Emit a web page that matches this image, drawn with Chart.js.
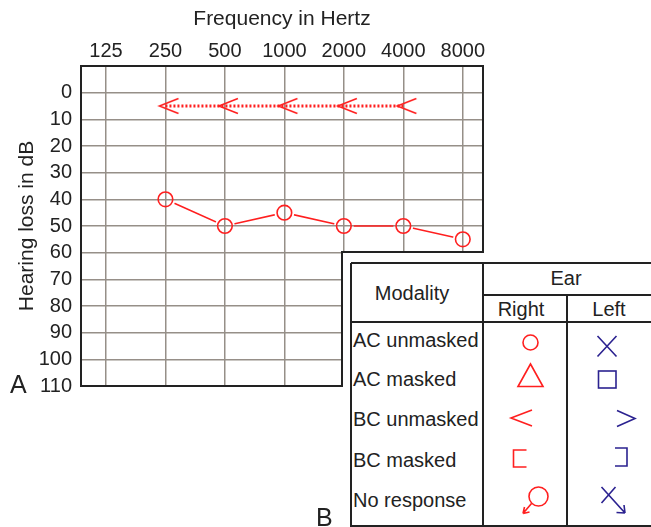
<!DOCTYPE html>
<html>
<head>
<meta charset="utf-8">
<script src="https://cdn.jsdelivr.net/npm/chart.js@4/dist/chart.umd.min.js"></script>
<style>
  html, body { margin: 0; padding: 0; background: #fff; }
  body { width: 651px; height: 527px; position: relative; overflow: hidden;
         font-family: "Liberation Sans", Arial, Helvetica, sans-serif; color: #222; }
  #chart { position: absolute; left: 0; top: 0; }
  #cover { position: absolute; left: 343px; top: 253px; right: 0; bottom: 0; background: #fff; }
  #key { position: absolute; left: 0; top: 0; }
  .t { position: absolute; font-size: 20px; line-height: 24px; white-space: nowrap; }
  .c { transform: translateX(-50%); }
  .panel { position: absolute; font-size: 25px; line-height: 30px; }
</style>
</head>
<body>
<canvas id="chart" width="651" height="527"></canvas>

<!-- panel B: symbol key pasted over the lower right of the audiogram -->
<div id="cover"></div>
<svg id="key" width="651" height="527" viewBox="0 0 651 527" fill="none" stroke-linecap="butt">
  <g stroke="#222" stroke-width="2">
    <path d="M351 263 H655 M351 263 V526 H655 M483 263 V526 M567 295 V526 M483 295 H655 M351 322 H655"/>
  </g>
  <g stroke="#ff1f1f" stroke-width="1.6">
    <circle cx="530.5" cy="342.5" r="7.5"/>
    <path d="M530.5 364 L518 386.5 H543 Z"/>
    <path d="M532 410 L511 418 L532 426"/>
    <path d="M526.5 450 H513.5 V467 H526.5"/>
    <circle cx="538.5" cy="496.5" r="9.5"/>
    <path d="M531.5 503.5 L523 513.5 M523 513.5 L529.5 512 M523 513.5 L524.5 507"/>
  </g>
  <g stroke="#2b2290" stroke-width="1.6">
    <path d="M597.5 336 L616.5 356.5 M616.5 336 L597.5 356.5"/>
    <rect x="598.5" y="371" width="17.5" height="17"/>
    <path d="M617 410.5 L635 418.5 L617 426.5"/>
    <path d="M615 448 H627 V466 H615"/>
    <path d="M601.5 487 L625 513 M615.5 487 L601.5 503 M625 513 L616.5 512.5 M625 513 L624 505"/>
  </g>
</svg>
<div class="t c" style="left:412px;top:281px">Modality</div>
<div class="t c" style="left:566px;top:266px">Ear</div>
<div class="t c" style="left:521px;top:297px">Right</div>
<div class="t c" style="left:609px;top:297px">Left</div>
<div class="t" style="left:353px;top:328px">AC unmasked</div>
<div class="t" style="left:353px;top:367px">AC masked</div>
<div class="t" style="left:353px;top:407px">BC unmasked</div>
<div class="t" style="left:353px;top:448px">BC masked</div>
<div class="t" style="left:353px;top:488px">No response</div>

<div class="panel" style="left:10px;top:369px">A</div>
<div class="panel" style="left:316px;top:502px">B</div>

<script>
// --- données de l'audiogramme (oreille droite) ---
const frequencies = [125, 250, 500, 1000, 2000, 4000, 8000];
const dbTicks = [0, 10, 20, 30, 40, 50, 60, 70, 80, 90, 100, 110];
const acRightDb = [null, 40, 50, 45, 50, 50, 55];   // conduction aérienne, O
const bcRightDb = [null, 5, 5, 5, 5, 5, null];      // conduction osseuse, <

const RED = '#ff1f1f';
const GRID = 'rgb(150,143,136)';
const INSET_LEFT = 342;  // coin de l'encart B
const INSET_TOP = 252;
const GAP_RADIUS = 10;   // le trait s'arrête avant les cercles

function seriesPoints(values) {
    return frequencies.map((f, i) => ({ x: i, y: values[i] }));
}

// symbole < (pointe légèrement à gauche du point)
function bcMark() {
    const c = document.createElement('canvas');
    c.width = 30; c.height = 20;
    const g = c.getContext('2d');
    g.strokeStyle = RED; g.lineWidth = 1.6;
    g.beginPath(); g.moveTo(28, 2.5); g.lineTo(9, 10); g.lineTo(28, 17.5); g.stroke();
    return c;
}

// coupe le trait O-O autour de chaque point (la grille reste visible dans les cercles)
const gapPlugin = {
    id: 'gap',
    beforeDatasetDraw(chart, args) {
        if (args.index !== 0) return;
        const ctx = chart.ctx;
        ctx.save();
        ctx.beginPath();
        ctx.rect(0, 0, chart.width, chart.height);
        args.meta.data.forEach(p => {
            if (p.skip) return;
            ctx.moveTo(p.x + GAP_RADIUS, p.y);
            ctx.arc(p.x, p.y, GAP_RADIUS, 0, Math.PI * 2, true);
        });
        ctx.clip('evenodd');
    },
    afterDatasetDraw(chart, args) {
        if (args.index === 0) chart.ctx.restore();
    }
};

// cadre en L (l'encart B coupe le coin bas droit)
const framePlugin = {
    id: 'frame',
    afterDraw(chart) {
        const { ctx, chartArea: a } = chart;
        ctx.save();
        ctx.strokeStyle = '#222';
        ctx.lineWidth = 2;
        ctx.beginPath();
        ctx.moveTo(a.left, a.top);
        ctx.lineTo(a.right, a.top);
        ctx.lineTo(a.right, INSET_TOP);
        ctx.lineTo(INSET_LEFT, INSET_TOP);
        ctx.lineTo(INSET_LEFT, a.bottom);
        ctx.lineTo(a.left, a.bottom);
        ctx.closePath();
        ctx.stroke();
        ctx.restore();
    }
};

Chart.defaults.font.family = '"Liberation Sans", Arial, Helvetica, sans-serif';
Chart.defaults.color = '#222';

new Chart(document.getElementById('chart'), {
    type: 'line',
    data: {
        datasets: [
            {
                label: 'AC unmasked right (trait)',
                data: seriesPoints(acRightDb),
                borderColor: RED,
                borderWidth: 1.6,
                pointRadius: 0,
                tension: 0
            },
            {
                label: 'AC unmasked right',
                data: seriesPoints(acRightDb),
                showLine: false,
                pointStyle: 'circle',
                pointRadius: 7.3,
                pointBorderWidth: 1.6,
                pointBorderColor: RED,
                pointBackgroundColor: 'rgba(0,0,0,0)'
            },
            {
                label: 'BC unmasked right',
                data: seriesPoints(bcRightDb),
                borderColor: RED,
                borderWidth: 3,
                borderDash: [2, 2],
                pointStyle: bcMark(),
                tension: 0
            }
        ]
    },
    options: {
        responsive: false,
        animation: false,
        devicePixelRatio: 1,
        events: [],
        layout: { padding: { left: 0, top: 0, right: 168, bottom: 141 } },
        plugins: { legend: { display: false }, tooltip: { enabled: false } },
        scales: {
            x: {
                type: 'linear',
                position: 'top',
                min: -0.42,
                max: 6.34,
                afterBuildTicks: s => { s.ticks = frequencies.map((f, i) => ({ value: i })); },
                afterFit: s => { s.height = 66; },
                ticks: {
                    callback: (v, i) => String(frequencies[i]),
                    font: { size: 20 },
                    padding: 3,
                    maxRotation: 0,
                    autoSkip: false
                },
                grid: { color: GRID, lineWidth: 1.5, drawTicks: false },
                border: { display: false },
                title: { display: true, text: 'Frequency in Hertz', font: { size: 21 }, padding: { top: 7, bottom: 0 } }
            },
            y: {
                type: 'linear',
                reverse: true,
                min: -10,
                max: 110,
                afterBuildTicks: s => { s.ticks = dbTicks.map(v => ({ value: v })); },
                afterFit: s => { s.width = 81; },
                ticks: { font: { size: 20 }, padding: 9, autoSkip: false },
                grid: { color: GRID, lineWidth: 1.5, drawTicks: false },
                border: { display: false },
                title: { display: true, text: 'Hearing loss in dB', font: { size: 21 }, padding: { top: 15, bottom: 0 } }
            }
        }
    },
    plugins: [gapPlugin, framePlugin]
});
</script>
</body>
</html>
